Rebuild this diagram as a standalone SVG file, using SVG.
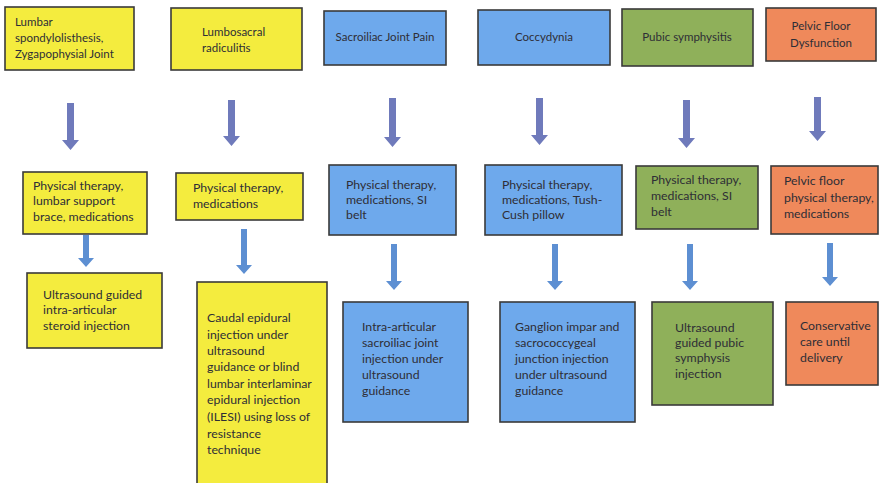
<svg xmlns="http://www.w3.org/2000/svg" width="890" height="483" viewBox="0 0 890 483">
<defs>
<style>
.bx{stroke:#3a3a3a;stroke-width:1.6}
.y{fill:#f4ec3e}
.b{fill:#6ea9ec}
.g{fill:#8fb05a}
.o{fill:#ef895b}
text{font-family:Lato,"Liberation Sans",sans-serif;fill:#2e2e36}
.t{font-size:11.5px}
.s{font-size:12.3px}
.c{text-anchor:middle}
.a1{fill:#6f7abb}
.a2{fill:#5d8fd2}
</style>
</defs>
<rect width="890" height="483" fill="#ffffff"/>

<g id="connectors">
<path class="a1" d="M67,103h7v37h5l-8.5,10l-8.5,-10h5z"/>
<path class="a1" d="M228,100h7v36h5l-8.5,10l-8.5,-10h5z"/>
<path class="a1" d="M389,98h7v39h5l-8.5,10l-8.5,-10h5z"/>
<path class="a1" d="M536,98h7v37h5l-8.5,10l-8.5,-10h5z"/>
<path class="a1" d="M683,100h7v38h5l-8.5,10l-8.5,-10h5z"/>
<path class="a1" d="M814,97h7v34h5l-8.5,10l-8.5,-10h5z"/>
<path class="a2" d="M83,235h6v23h5l-8,9l-8,-9h5z"/>
<path class="a2" d="M241,229h6v36h5l-8,9l-8,-9h5z"/>
<path class="a2" d="M391,244h6v37h5l-8,9l-8,-9h5z"/>
<path class="a2" d="M552,244h6v37h5l-8,9l-8,-9h5z"/>
<path class="a2" d="M687,244h6v37h5l-8,9l-8,-9h5z"/>
<path class="a2" d="M827,243h6v34h5l-8,9l-8,-9h5z"/>
</g>

<g id="n1"><rect class="bx y" x="5" y="7" width="129" height="63"/>
<text class="t" x="15" y="26">Lumbar</text><text class="t" x="15" y="42">spondylolisthesis,</text><text class="t" x="15" y="58">Zygapophysial Joint</text></g>
<g id="n2"><rect class="bx y" x="171" y="8" width="131" height="62"/>
<text class="t" x="202" y="36">Lumbosacral</text><text class="t" x="202" y="52">radiculitis</text></g>
<g id="n3"><rect class="bx b" x="324" y="11" width="122" height="54"/>
<text class="t c" x="385" y="41">Sacroiliac Joint Pain</text></g>
<g id="n4"><rect class="bx b" x="478" y="10" width="132" height="55"/>
<text class="t c" x="544" y="41">Coccydynia</text></g>
<g id="n5"><rect class="bx g" x="622" y="9" width="131" height="57"/>
<text class="t c" x="687" y="41">Pubic symphysitis</text></g>
<g id="n6"><rect class="bx o" x="766" y="8" width="110" height="53"/>
<text class="t c" x="821" y="30">Pelvic Floor</text><text class="t c" x="821" y="47">Dysfunction</text></g>

<g id="n7"><rect class="bx y" x="23" y="172" width="124" height="62"/>
<text class="s" x="33" y="190">Physical therapy,</text><text class="s" x="33" y="205">lumbar support</text><text class="s" x="33" y="221">brace, medications</text></g>
<g id="n8"><rect class="bx y" x="176" y="173" width="127" height="47"/>
<text class="s" x="193" y="192">Physical therapy,</text><text class="s" x="193" y="208">medications</text></g>
<g id="n9"><rect class="bx b" x="329" y="165" width="127" height="70"/>
<text class="s" x="346" y="189">Physical therapy,</text><text class="s" x="346" y="204">medications, SI</text><text class="s" x="346" y="219">belt</text></g>
<g id="n10"><rect class="bx b" x="485" y="165" width="137" height="70"/>
<text class="s" x="502" y="189">Physical therapy,</text><text class="s" x="502" y="204">medications, Tush-</text><text class="s" x="502" y="219">Cush pillow</text></g>
<g id="n11"><rect class="bx g" x="636" y="166" width="122" height="63"/>
<text class="s" x="651" y="184">Physical therapy,</text><text class="s" x="651" y="200">medications, SI</text><text class="s" x="651" y="216">belt</text></g>
<g id="n12"><rect class="bx o" x="771" y="166" width="107" height="68"/>
<text class="s" x="784" y="185">Pelvic floor</text><text class="s" x="784" y="202">physical therapy,</text><text class="s" x="784" y="218">medications</text></g>

<g id="n13"><rect class="bx y" x="27" y="273" width="135" height="75"/>
<text class="s" x="43" y="299">Ultrasound guided</text><text class="s" x="43" y="314">intra-articular</text><text class="s" x="43" y="330">steroid injection</text></g>
<g id="n14"><rect class="bx y" x="197" y="282" width="130" height="205"/>
<text class="s" x="207" y="322">Caudal epidural</text><text class="s" x="207" y="339">injection under</text><text class="s" x="207" y="355">ultrasound</text><text class="s" x="207" y="371">guidance or blind</text><text class="s" x="207" y="388">lumbar interlaminar</text><text class="s" x="207" y="404">epidural injection</text><text class="s" x="207" y="421">(ILESI) using loss of</text><text class="s" x="207" y="438">resistance</text><text class="s" x="207" y="454">technique</text></g>
<g id="n15"><rect class="bx b" x="343" y="302" width="125" height="120"/>
<text class="s" x="362" y="331">Intra-articular</text><text class="s" x="362" y="347">sacroiliac joint</text><text class="s" x="362" y="363">injection under</text><text class="s" x="362" y="379">ultrasound</text><text class="s" x="362" y="395">guidance</text></g>
<g id="n16"><rect class="bx b" x="500" y="302" width="135" height="120"/>
<text class="s" x="515" y="331">Ganglion impar and</text><text class="s" x="515" y="347">sacrococcygeal</text><text class="s" x="515" y="363">junction injection</text><text class="s" x="515" y="379">under ultrasound</text><text class="s" x="515" y="395">guidance</text></g>
<g id="n17"><rect class="bx g" x="652" y="302" width="121" height="103"/>
<text class="s" x="675" y="332">Ultrasound</text><text class="s" x="675" y="347">guided pubic</text><text class="s" x="675" y="362">symphysis</text><text class="s" x="675" y="378">injection</text></g>
<g id="n18"><rect class="bx o" x="786" y="302" width="92" height="83"/>
<text class="s" x="800" y="330">Conservative</text><text class="s" x="800" y="346">care until</text><text class="s" x="800" y="362">delivery</text></g>
</svg>
